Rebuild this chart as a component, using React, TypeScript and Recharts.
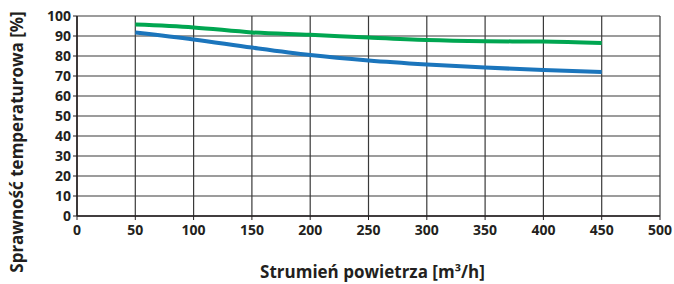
import { CartesianGrid, Line, LineChart, XAxis, YAxis } from "recharts";

const FLOWS = [50, 100, 150, 200, 250, 300, 350, 400, 450];
const GREEN_VALUES = [95.7, 94.3, 91.8, 90.6, 89.2, 88.0, 87.4, 87.2, 86.5];
const BLUE_VALUES = [91.8, 88.3, 84.2, 80.5, 77.8, 75.8, 74.2, 73.0, 72.0];
const X_TICKS = [0, 50, 100, 150, 200, 250, 300, 350, 400, 450, 500];
const Y_TICKS = [0, 10, 20, 30, 40, 50, 60, 70, 80, 90, 100];

const GREEN = "#00a651";
const BLUE = "#1b75bc";
const FONT = "'Open Sans', 'DejaVu Sans', sans-serif";

const data = FLOWS.map((flow, i) => ({
  flow,
  green: GREEN_VALUES[i],
  blue: BLUE_VALUES[i],
}));

const tickStyle = { fontFamily: FONT, fontWeight: 700, fontSize: 14, fill: "#231f20" };

export default function App() {
  return (
    <div style={{ position: "fixed", left: 0, top: 0, background: "#fff" }}>
      <LineChart
        width={674}
        height={284}
        data={data}
        margin={{ top: 16, right: 14, left: 0, bottom: 38 }}
      >
        <CartesianGrid stroke="#3a3a3a" strokeWidth={1.2} />
        <XAxis
          dataKey="flow"
          type="number"
          domain={[0, 500]}
          ticks={X_TICKS}
          interval={0}
          height={30}
          axisLine={{ stroke: "#231f20", strokeWidth: 1.5 }}
          tickLine={{ stroke: "#231f20" }}
          tickSize={4}
          tickMargin={5}
          tick={tickStyle}
          label={{
            content: ({ viewBox }: any) => (
              <text
                x={viewBox.x + viewBox.width / 2 + 4}
                y={viewBox.y + 62}
                textAnchor="middle"
                style={{ fontFamily: FONT, fontWeight: 700, fontSize: 17, fill: "#231f20" }}
              >
                Strumień powietrza [m³/h]
              </text>
            ),
          }}
        />
        <YAxis
          type="number"
          domain={[0, 100]}
          ticks={Y_TICKS}
          interval={0}
          width={77}
          axisLine={{ stroke: "#231f20", strokeWidth: 1.5 }}
          tickLine={{ stroke: "#231f20" }}
          tickSize={4}
          tick={tickStyle}
          label={{
            content: ({ viewBox }: any) => {
              const cx = 16;
              const cy = viewBox.y + viewBox.height / 2 + 26;
              return (
                <text
                  x={cx}
                  y={cy}
                  transform={`rotate(-90 ${cx} ${cy})`}
                  textAnchor="middle"
                  dominantBaseline="central"
                  style={{ fontFamily: FONT, fontWeight: 700, fontSize: 17, fill: "#231f20" }}
                >
                  Sprawność temperaturowa [%]
                </text>
              );
            },
          }}
        />
        <Line
          type="monotone"
          dataKey="green"
          stroke={GREEN}
          strokeWidth={4}
          dot={false}
          isAnimationActive={false}
        />
        <Line
          type="monotone"
          dataKey="blue"
          stroke={BLUE}
          strokeWidth={4}
          dot={false}
          isAnimationActive={false}
        />
      </LineChart>
    </div>
  );
}
